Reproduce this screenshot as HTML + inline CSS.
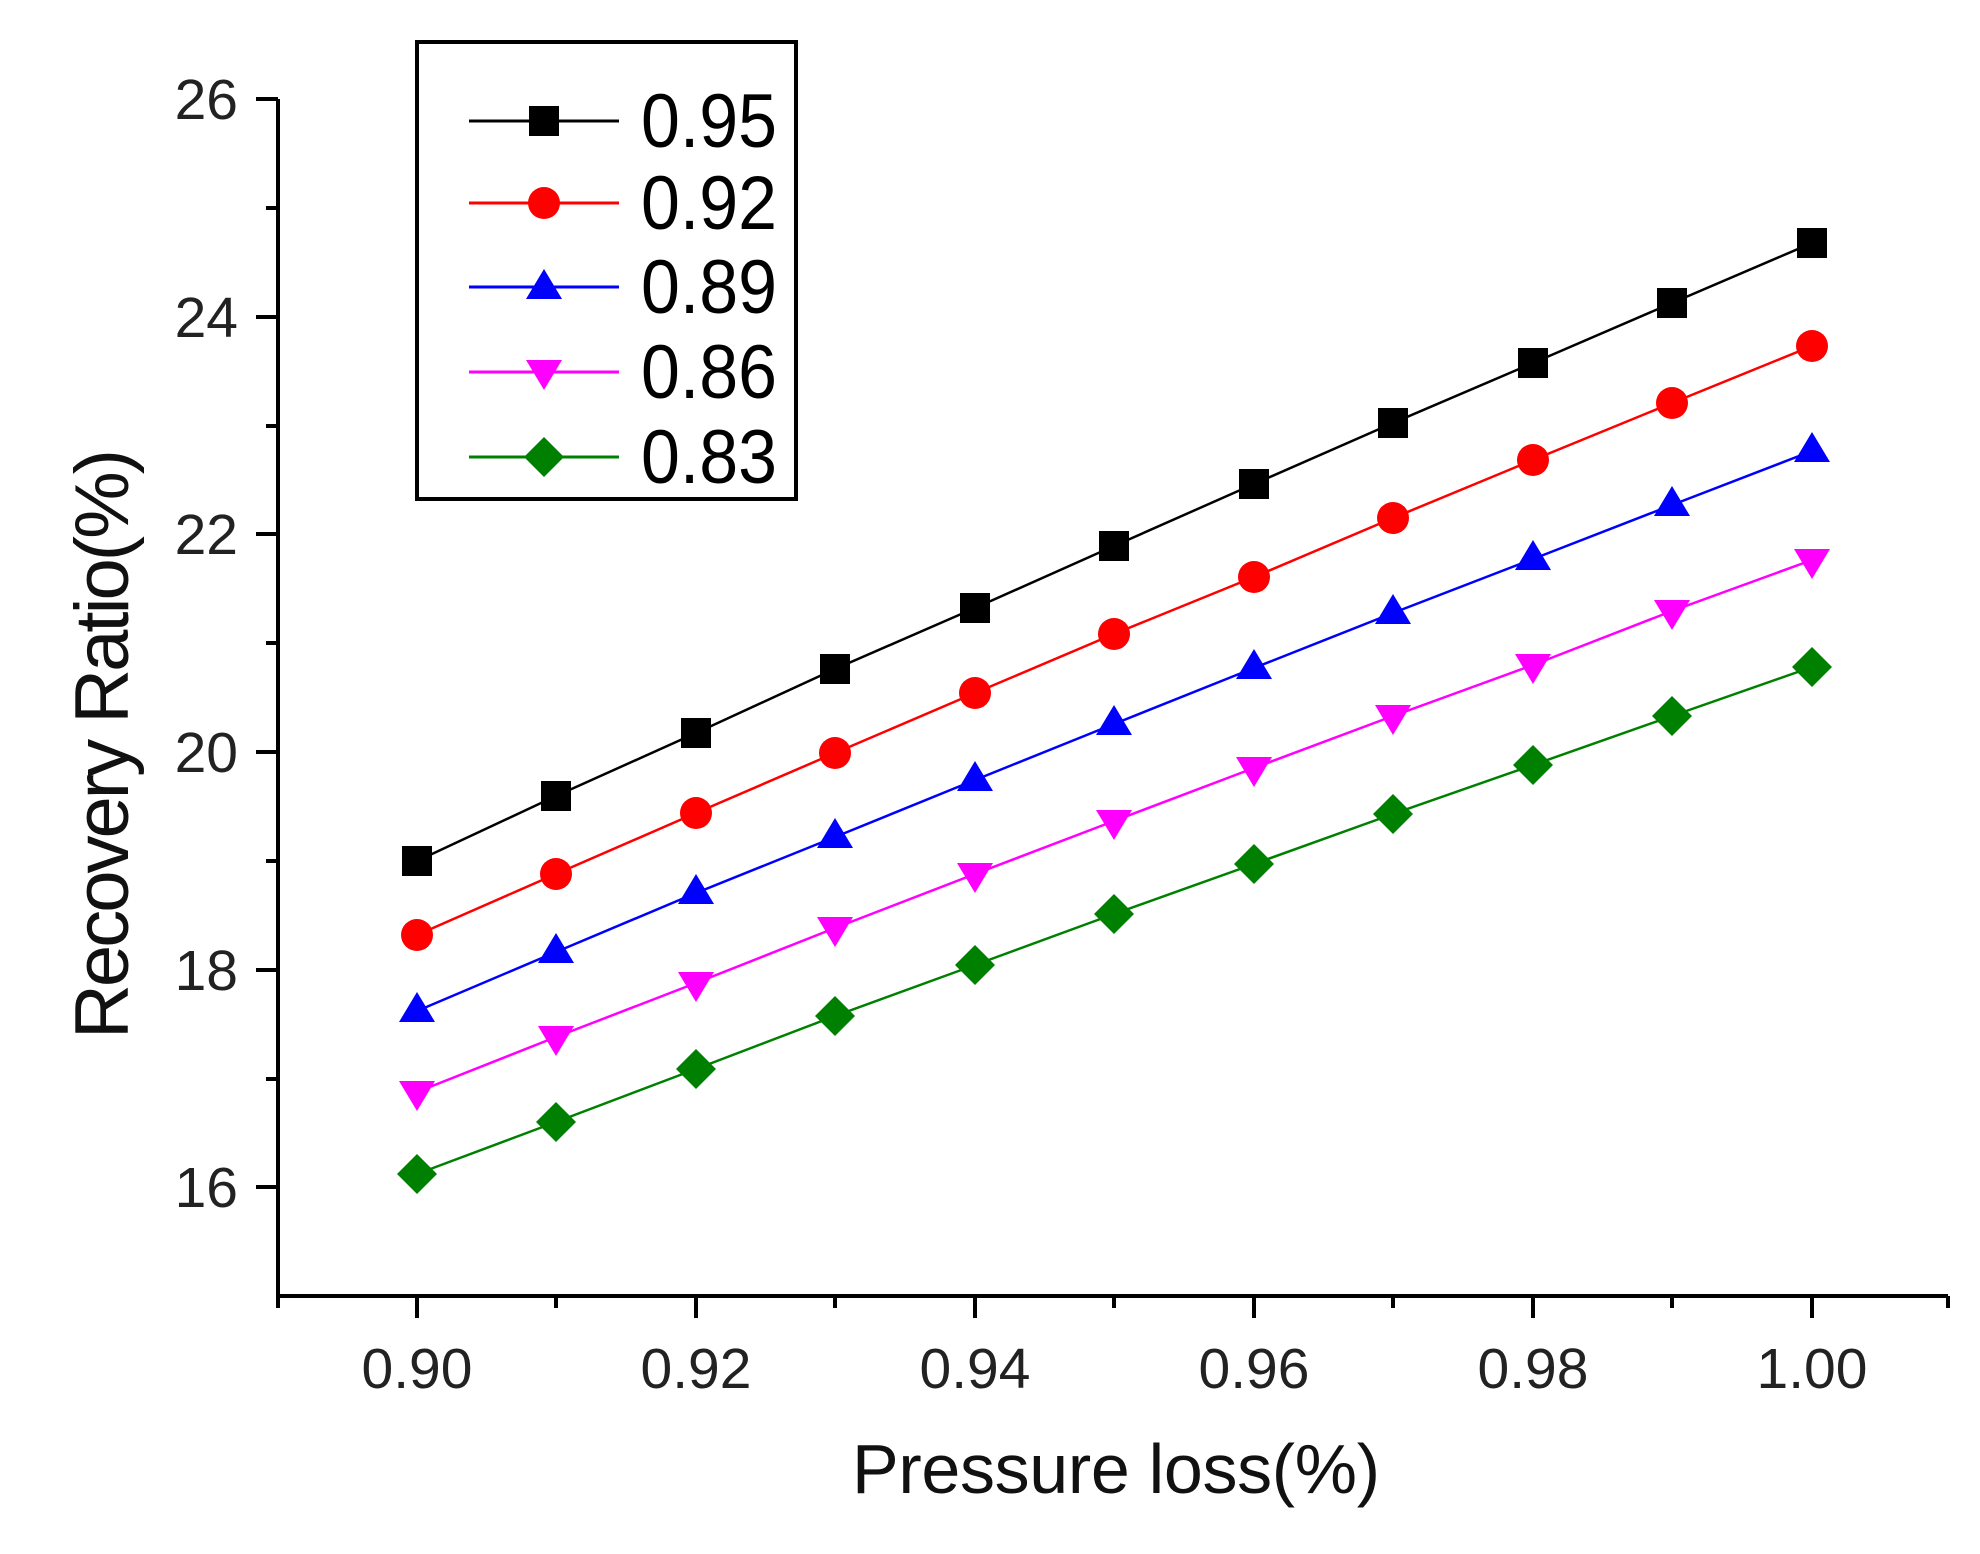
<!DOCTYPE html>
<html><head><meta charset="utf-8"><style>html,body{margin:0;padding:0;background:#fff}svg{display:block}</style></head>
<body>
<svg width="1980" height="1554" viewBox="0 0 1980 1554" xmlns="http://www.w3.org/2000/svg" font-family="Liberation Sans, Arial, sans-serif">
<rect width="1980" height="1554" fill="#fff"/>
<g transform="translate(-2,-4)">
<g stroke="#000" stroke-width="4" fill="none">
<line x1="280" y1="103" x2="280" y2="1300"/>
<line x1="280" y1="1300" x2="1950" y2="1300"/>
<line x1="258" y1="103" x2="280" y2="103"/><line x1="258" y1="321" x2="280" y2="321"/><line x1="258" y1="538" x2="280" y2="538"/><line x1="258" y1="756" x2="280" y2="756"/><line x1="258" y1="974" x2="280" y2="974"/><line x1="258" y1="1191" x2="280" y2="1191"/>
<line x1="268" y1="212" x2="280" y2="212"/><line x1="268" y1="430" x2="280" y2="430"/><line x1="268" y1="647" x2="280" y2="647"/><line x1="268" y1="865" x2="280" y2="865"/><line x1="268" y1="1083" x2="280" y2="1083"/>
<line x1="419" y1="1300" x2="419" y2="1322"/><line x1="698" y1="1300" x2="698" y2="1322"/><line x1="977" y1="1300" x2="977" y2="1322"/><line x1="1256" y1="1300" x2="1256" y2="1322"/><line x1="1535" y1="1300" x2="1535" y2="1322"/><line x1="1814" y1="1300" x2="1814" y2="1322"/>
<line x1="280" y1="1300" x2="280" y2="1312"/><line x1="558" y1="1300" x2="558" y2="1312"/><line x1="837" y1="1300" x2="837" y2="1312"/><line x1="1116" y1="1300" x2="1116" y2="1312"/><line x1="1395" y1="1300" x2="1395" y2="1312"/><line x1="1674" y1="1300" x2="1674" y2="1312"/><line x1="1950" y1="1300" x2="1950" y2="1312"/>
</g>
<g font-size="57" fill="#222" text-anchor="end">
<text x="240" y="123">26</text><text x="240" y="341">24</text><text x="240" y="558">22</text><text x="240" y="776">20</text><text x="240" y="994">18</text><text x="240" y="1211">16</text>
</g>
<g font-size="57" fill="#222" text-anchor="middle">
<text x="419" y="1392">0.90</text><text x="698" y="1392">0.92</text><text x="977" y="1392">0.94</text><text x="1256" y="1392">0.96</text><text x="1535" y="1392">0.98</text><text x="1814" y="1392">1.00</text>
</g>
<text x="1118" y="1497" font-size="70" text-anchor="middle" fill="#111" textLength="528">Pressure loss(%)</text>
<text transform="translate(130,748) rotate(-90)" font-size="76" text-anchor="middle" fill="#111" textLength="590">Recovery Ratio(%)</text>
<g stroke-width="2.5" fill="none">
<polyline stroke="#000" points="419,865 558,800 698,737 837,673 977,612 1116,550 1256,488 1395,427 1535,367 1674,307 1814,247"/>
<polyline stroke="#f00" points="419,939 558,878 698,817 837,757 977,697 1116,638 1256,581 1395,522 1535,464 1674,407 1814,350"/>
<polyline stroke="#00f" points="419,1015 558,956 698,897 837,841 977,784 1116,728 1256,672 1395,617 1535,563 1674,509 1814,455"/>
<polyline stroke="#f0f" points="419,1096 558,1041 698,987 837,932 977,878 1116,825 1256,772 1395,720 1535,669 1674,615 1814,564"/>
<polyline stroke="#008000" points="419,1178 558,1126 698,1073 837,1020 977,969 1116,918 1256,868 1395,818 1535,769 1674,720 1814,671"/>
</g>
<g fill="#000">
<rect x="404" y="850" width="30" height="30"/><rect x="543" y="785" width="30" height="30"/><rect x="683" y="722" width="30" height="30"/><rect x="822" y="658" width="30" height="30"/><rect x="962" y="597" width="30" height="30"/><rect x="1101" y="535" width="30" height="30"/><rect x="1241" y="473" width="30" height="30"/><rect x="1380" y="412" width="30" height="30"/><rect x="1520" y="352" width="30" height="30"/><rect x="1659" y="292" width="30" height="30"/><rect x="1799" y="232" width="30" height="30"/>
</g>
<g fill="#f00">
<circle cx="419" cy="939" r="16"/><circle cx="558" cy="878" r="16"/><circle cx="698" cy="817" r="16"/><circle cx="837" cy="757" r="16"/><circle cx="977" cy="697" r="16"/><circle cx="1116" cy="638" r="16"/><circle cx="1256" cy="581" r="16"/><circle cx="1395" cy="522" r="16"/><circle cx="1535" cy="464" r="16"/><circle cx="1674" cy="407" r="16"/><circle cx="1814" cy="350" r="16"/>
</g>
<g fill="#00f">
<polygon points="419,996 437,1026 401,1026"/><polygon points="558,937 576,967 540,967"/><polygon points="698,878 716,908 680,908"/><polygon points="837,822 855,852 819,852"/><polygon points="977,765 995,795 959,795"/><polygon points="1116,709 1134,739 1098,739"/><polygon points="1256,653 1274,683 1238,683"/><polygon points="1395,598 1413,628 1377,628"/><polygon points="1535,544 1553,574 1517,574"/><polygon points="1674,490 1692,520 1656,520"/><polygon points="1814,436 1832,466 1796,466"/>
</g>
<g fill="#f0f">
<polygon points="419,1115 437,1085 401,1085"/><polygon points="558,1060 576,1030 540,1030"/><polygon points="698,1006 716,976 680,976"/><polygon points="837,951 855,921 819,921"/><polygon points="977,897 995,867 959,867"/><polygon points="1116,844 1134,814 1098,814"/><polygon points="1256,791 1274,761 1238,761"/><polygon points="1395,739 1413,709 1377,709"/><polygon points="1535,688 1553,658 1517,658"/><polygon points="1674,634 1692,604 1656,604"/><polygon points="1814,583 1832,553 1796,553"/>
</g>
<g fill="#008000">
<polygon points="419,1158 439,1178 419,1198 399,1178"/><polygon points="558,1106 578,1126 558,1146 538,1126"/><polygon points="698,1053 718,1073 698,1093 678,1073"/><polygon points="837,1000 857,1020 837,1040 817,1020"/><polygon points="977,949 997,969 977,989 957,969"/><polygon points="1116,898 1136,918 1116,938 1096,918"/><polygon points="1256,848 1276,868 1256,888 1236,868"/><polygon points="1395,798 1415,818 1395,838 1375,818"/><polygon points="1535,749 1555,769 1535,789 1515,769"/><polygon points="1674,700 1694,720 1674,740 1654,720"/><polygon points="1814,651 1834,671 1814,691 1794,671"/>
</g>
</g>
<rect x="417" y="42" width="379" height="457" fill="#fff" stroke="#000" stroke-width="4"/>
<g stroke-width="3">
<line x1="469" y1="121" x2="619" y2="121" stroke="#000"/><rect x="529" y="106" width="30" height="30" fill="#000"/>
<line x1="469" y1="203" x2="619" y2="203" stroke="#f00"/><circle cx="544" cy="203" r="16" fill="#f00"/>
<line x1="469" y1="287" x2="619" y2="287" stroke="#00f"/><polygon points="544,269 562,299 526,299" fill="#00f"/>
<line x1="469" y1="372" x2="619" y2="372" stroke="#f0f"/><polygon points="544,390 562,360 526,360" fill="#f0f"/>
<line x1="469" y1="457" x2="619" y2="457" stroke="#008000"/><polygon points="544,437 564,457 544,477 524,457" fill="#008000"/>
</g>
<g font-size="76" fill="#000">
<text x="641" y="147" textLength="136" lengthAdjust="spacingAndGlyphs">0.95</text>
<text x="641" y="229" textLength="136" lengthAdjust="spacingAndGlyphs">0.92</text>
<text x="641" y="313" textLength="136" lengthAdjust="spacingAndGlyphs">0.89</text>
<text x="641" y="398" textLength="136" lengthAdjust="spacingAndGlyphs">0.86</text>
<text x="641" y="483" textLength="136" lengthAdjust="spacingAndGlyphs">0.83</text>
</g>
</svg>
</body></html>
